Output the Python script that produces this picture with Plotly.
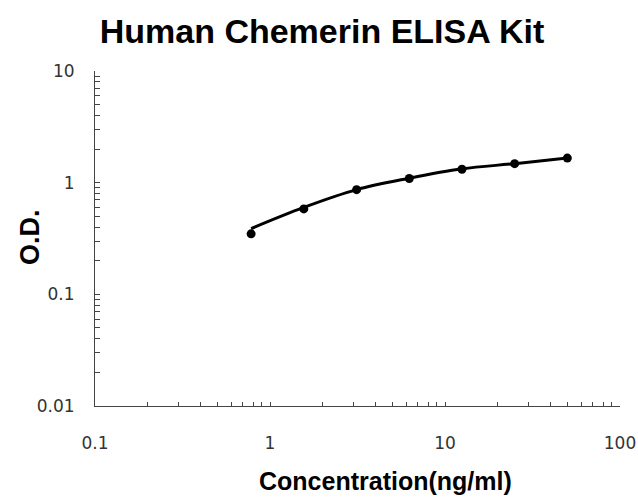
import plotly.graph_objects as go

# Data
concentration = [0.78, 1.56, 3.125, 6.25, 12.5, 25, 50]
od_points = [0.348, 0.582, 0.866, 1.09, 1.32, 1.48, 1.66]
od_curve = [0.388, 0.60, 0.866, 1.097, 1.33, 1.48, 1.66]

x_tick_labels = ["0.1", "1", "10", "100"]
y_tick_labels = ["0.01", "0.1", "1", "10"]

# Build tick positions (all minor multiples), with labels only at decades
def log_ticks(decades, labels):
    vals, texts = [], []
    for i, d in enumerate(decades):
        for m in range(1, 10):
            if i == len(decades) - 1 and m > 1:
                break
            vals.append(m * d)
            texts.append(labels[i] if m == 1 else "")
    return vals, texts

xv, xt = log_ticks([0.1, 1, 10, 100], x_tick_labels)
yv, yt = log_ticks([0.01, 0.1, 1, 10], y_tick_labels)

fig = go.Figure()
fig.add_trace(go.Scatter(x=concentration, y=od_curve, mode="lines",
                         line=dict(color="black", width=3, shape="spline", smoothing=1.0),
                         hoverinfo="skip", showlegend=False))
fig.add_trace(go.Scatter(x=concentration, y=od_points, mode="markers",
                         marker=dict(color="black", size=9), showlegend=False))

W, H = 638, 497
L, R, T, B = 95, 18, 71, 91
pw, ph = W - L - R, H - T - B

fig.update_layout(
    width=W, height=H,
    margin=dict(l=L, r=R, t=T, b=B),
    paper_bgcolor="white", plot_bgcolor="white",
    title=dict(text="<b>Human Chemerin ELISA Kit</b>", xref="container", yref="container",
               x=322 / W, y=1 - 31 / H, xanchor="center", yanchor="middle",
               font=dict(family="Liberation Sans, Arial", size=34, color="black")),
    xaxis=dict(type="log", range=[-1, 2], tickvals=xv, ticktext=xt,
               ticks="inside", ticklen=4, tickcolor="#444", tickwidth=1,
               showline=True, linecolor="#444", linewidth=1, showgrid=False,
               zeroline=False, ticklabelstandoff=22, automargin=False,
               tickfont=dict(family="DejaVu Sans", size=17, color="#333")),
    yaxis=dict(type="log", range=[-2, 1], tickvals=yv, ticktext=yt,
               ticks="inside", ticklen=5, tickcolor="#444", tickwidth=1,
               showline=True, linecolor="#444", linewidth=1, showgrid=False,
               zeroline=False, ticklabelstandoff=16, automargin=False,
               tickfont=dict(family="DejaVu Sans", size=17, color="#333")),
    annotations=[
        dict(text="<b>Concentration(ng/ml)</b>", xref="paper", yref="paper",
             x=(385 - L) / pw, y=(H - B - 481) / ph, xanchor="center", yanchor="middle",
             showarrow=False, font=dict(family="Liberation Sans, Arial", size=25, color="black")),
        dict(text="<b>O.D.</b>", xref="paper", yref="paper", textangle=-90,
             x=(30 - L) / pw, y=(H - B - 237) / ph, xanchor="center", yanchor="middle",
             showarrow=False, font=dict(family="Liberation Sans, Arial", size=27, color="black")),
    ],
)

fig.write_html("out.html", config={"displayModeBar": False})

# Remove the default body margin so the figure sits at the page's top-left corner
with open("out.html", "r", encoding="utf-8") as f:
    html = f.read()
html = html.replace("<body>", '<body style="margin:0;padding:0;">', 1)
html = html.replace("<head>", "<head><style>html,body{margin:0;padding:0;overflow:hidden;}</style>", 1)
with open("out.html", "w", encoding="utf-8") as f:
    f.write(html)
